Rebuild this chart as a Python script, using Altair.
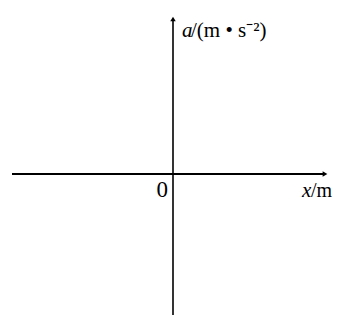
import altair as alt
import pandas as pd

# axis extents (schematic units, origin at 0)
x_axis_x = [-161, 152]
x_axis_y = [0, 0]
y_axis_x = [0, 0]
y_axis_y = [-141, 155]

# arrow heads
arrow_x = [152, 0]
arrow_y = [0, 155]
arrow_shape = ["triangle-right", "triangle-up"]

# labels
lab_text = ["a", "/(m • s⁻²)", "0", "x", "/m"]
lab_x = [9, 18, -5, 129, 138]
lab_y = [137, 137, -23, -23, -23]
lab_size = [21, 21, 23, 21, 20]
lab_style = ["italic", "normal", "normal", "italic", "normal"]
lab_align = ["left", "left", "right", "left", "left"]

xs = alt.Scale(domain=[-165, 161], nice=False, zero=False)
ys = alt.Scale(domain=[-141, 166], nice=False, zero=False)

hx = pd.DataFrame({"x": x_axis_x, "y": x_axis_y})
vy = pd.DataFrame({"x": y_axis_x, "y": y_axis_y})
ar = pd.DataFrame({"x": arrow_x, "y": arrow_y, "s": arrow_shape})
lb = pd.DataFrame({"t": lab_text, "x": lab_x, "y": lab_y, "fs": lab_size,
                   "st": lab_style, "al": lab_align})

hline = alt.Chart(hx).mark_line(color="black", strokeWidth=1.8).encode(
    x=alt.X("x:Q", scale=xs, axis=None), y=alt.Y("y:Q", scale=ys, axis=None))
vline = alt.Chart(vy).mark_line(color="black", strokeWidth=1.6).encode(
    x=alt.X("x:Q", scale=xs, axis=None), y=alt.Y("y:Q", scale=ys, axis=None), order="y:Q")
arrows = alt.Chart(ar).mark_point(filled=True, color="black", size=30, opacity=1).encode(
    x=alt.X("x:Q", scale=xs, axis=None), y=alt.Y("y:Q", scale=ys, axis=None),
    shape=alt.Shape("s:N", scale=None))

texts = []
for st in ["italic", "normal"]:
    for al in ["left", "right"]:
        sub = lb[(lb.st == st) & (lb.al == al)]
        if len(sub) == 0:
            continue
        texts.append(alt.Chart(sub).mark_text(
            font="Liberation Serif", fontStyle=st, align=al,
            baseline="alphabetic", color="black").encode(
            x=alt.X("x:Q", scale=xs, axis=None), y=alt.Y("y:Q", scale=ys, axis=None),
            size=alt.Size("fs:Q", scale=None), text="t:N"))

chart = alt.layer(hline, vline, arrows, *texts).properties(
    width=326, height=307, padding=0, autosize="none", background="white"
).configure_view(stroke=None)

chart.save("out.html", embed_options={"renderer": "svg", "actions": False})
